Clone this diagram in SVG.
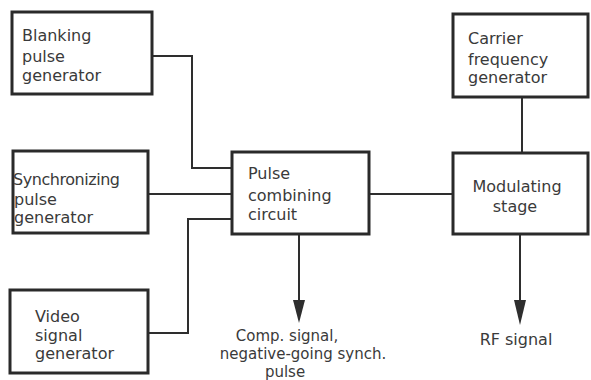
<svg xmlns="http://www.w3.org/2000/svg" width="591" height="380" viewBox="0 0 591 380">
<style>
.box{fill:#fff;stroke:#2a2a2a;stroke-width:3}
.ln{fill:none;stroke:#2e2e2e;stroke-width:2}
.hd{fill:#2e2e2e;stroke:none}
text{font-family:"DejaVu Sans","Liberation Sans",sans-serif;font-size:16px;fill:#3a3a3a}
.sm{font-size:15px}
</style>
<rect width="591" height="380" fill="#fff"/>
<g id="connectors">
<polyline class="ln" points="152,56 192,56 192,168 232,168"/>
<line class="ln" x1="148" y1="194" x2="232" y2="194"/>
<polyline class="ln" points="148,333 188,333 188,219 232,219"/>
<line class="ln" x1="369" y1="194" x2="453" y2="194"/>
<line class="ln" x1="522" y1="97" x2="522" y2="153"/>
<line class="ln" x1="299" y1="234" x2="299" y2="302"/>
<polygon class="hd" points="293,300 305,300 299,323"/>
<line class="ln" x1="520" y1="234" x2="520" y2="302"/>
<polygon class="hd" points="514,300 526,300 520,325"/>
</g>
<g id="blanking">
<rect class="box" x="12" y="12" width="140" height="82"/>
<text x="22" y="41">Blanking</text>
<text x="22" y="62">pulse</text>
<text x="22" y="81">generator</text>
</g>
<g id="synchronizing">
<rect class="box" x="13" y="151" width="135" height="82"/>
<text x="13" y="185" textLength="107">Synchronizing</text>
<text x="14" y="205">pulse</text>
<text x="14" y="223">generator</text>
</g>
<g id="video">
<rect class="box" x="10" y="290" width="138" height="83"/>
<text x="35" y="322">Video</text>
<text x="35" y="341">signal</text>
<text x="35" y="359">generator</text>
</g>
<g id="pulse-combining">
<rect class="box" x="232" y="152" width="137" height="82"/>
<text x="248" y="179">Pulse</text>
<text x="248" y="201">combining</text>
<text x="248" y="220">circuit</text>
</g>
<g id="carrier">
<rect class="box" x="453" y="14" width="135" height="83"/>
<text x="468" y="44">Carrier</text>
<text x="468" y="65">frequency</text>
<text x="468" y="83">generator</text>
</g>
<g id="modulating">
<rect class="box" x="453" y="153" width="135" height="81"/>
<text x="517" y="192" text-anchor="middle">Modulating</text>
<text x="515" y="212" text-anchor="middle">stage</text>
</g>
<g id="comp-label">
<text class="sm" x="287" y="341" text-anchor="middle">Comp. signal,</text>
<text class="sm" x="303" y="359" text-anchor="middle">negative-going synch.</text>
<text class="sm" x="285" y="377" text-anchor="middle">pulse</text>
</g>
<g id="rf-label">
<text x="516" y="345" text-anchor="middle">RF signal</text>
</g>
</svg>
